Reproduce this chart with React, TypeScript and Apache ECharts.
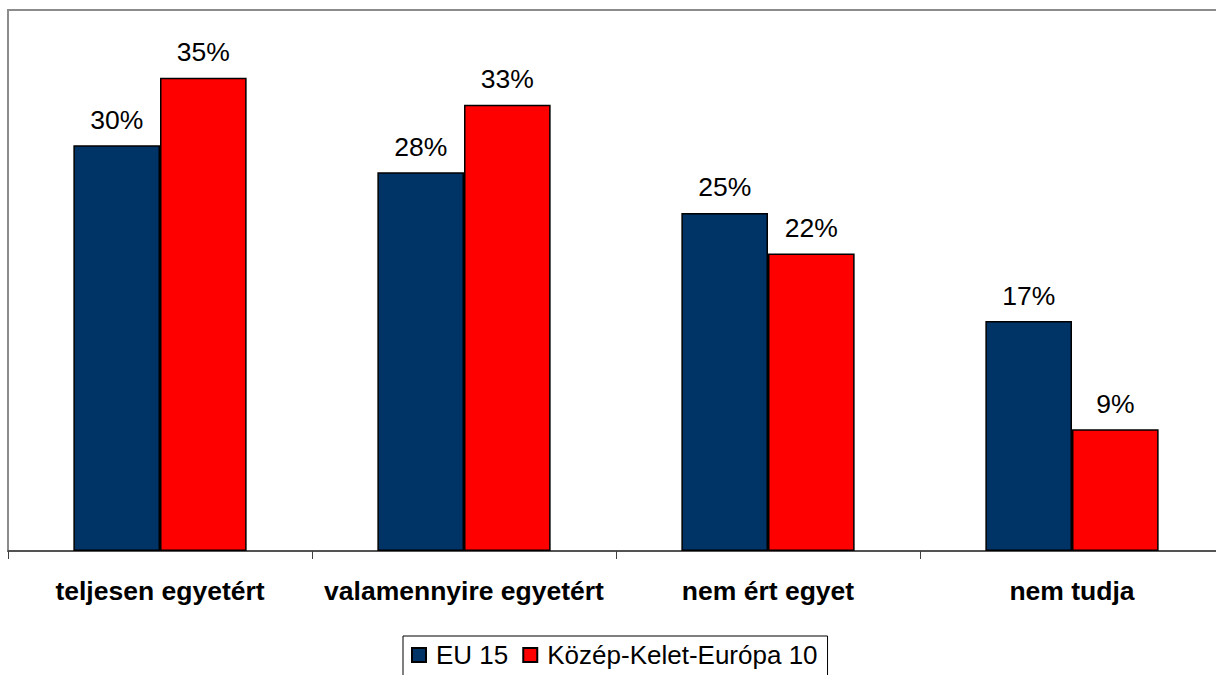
import React, { useEffect, useRef } from "react";
import * as echarts from "echarts";

const categories = ["teljesen egyetért", "valamennyire egyetért", "nem ért egyet", "nem tudja"];
const seriesNames = ["EU 15", "Közép-Kelet-Európa 10"];
const eu15 = [30, 28, 25, 17];
const kke10 = [35, 33, 22, 9];
const colors = ["#003366", "#FF0000"];

const FONT = "'Liberation Sans', Arial, sans-serif";

export default function App() {
  const ref = useRef<HTMLDivElement>(null);
  useEffect(() => {
    if (!ref.current) return;
    const chart = echarts.init(ref.current, null, { renderer: "svg" });
    const label = {
      show: true,
      position: "top",
      distance: 12,
      formatter: "{c}%",
      color: "#000",
      fontSize: 26.5,
      fontFamily: FONT,
    };
    chart.setOption({
      animation: false,
      backgroundColor: "#fff",
      grid: {
        left: 8,
        top: 10,
        width: 1216,
        height: 541,
        outerBoundsMode: "none",
        containLabel: false,
        show: true,
        borderColor: "#8c8c8c",
        borderWidth: 2,
        backgroundColor: "transparent",
      },
      legend: {
        data: seriesNames,
        left: 403,
        top: 636,
        orient: "horizontal",
        icon: "rect",
        itemWidth: 14,
        itemHeight: 14,
        itemGap: 14,
        padding: [6, 10, 30, 8],
        borderColor: "#000",
        borderWidth: 1,
        backgroundColor: "#fff",
        textStyle: { fontSize: 26, fontFamily: FONT, color: "#000", padding: [0, 0, 0, 5] },
      },
      xAxis: {
        type: "category",
        data: categories,
        axisLine: { show: true, lineStyle: { color: "#404040", width: 1.5 } },
        axisTick: { show: true, alignWithLabel: false, length: 8, lineStyle: { color: "#404040" } },
        axisLabel: {
          fontSize: 26.5,
          fontWeight: "bold",
          fontFamily: FONT,
          color: "#000",
          margin: 26,
          interval: 0,
        },
      },
      yAxis: {
        type: "value",
        min: 0,
        max: 40,
        show: false,
        splitLine: { show: false },
      },
      series: [
        {
          name: seriesNames[0],
          type: "bar",
          data: eu15,
          barGap: "0%",
          barCategoryGap: "43%",
          itemStyle: { color: colors[0], borderColor: "#000", borderWidth: 1.5 },
          label,
        },
        {
          name: seriesNames[1],
          type: "bar",
          data: kke10,
          barGap: "0%",
          barCategoryGap: "43%",
          itemStyle: { color: colors[1], borderColor: "#000", borderWidth: 1.5 },
          label,
        },
      ],
    });
    return () => chart.dispose();
  }, []);
  return (
    <div
      ref={ref}
      style={{ position: "fixed", left: 0, top: 0, width: 1216, height: 675, background: "#fff" }}
    />
  );
}
